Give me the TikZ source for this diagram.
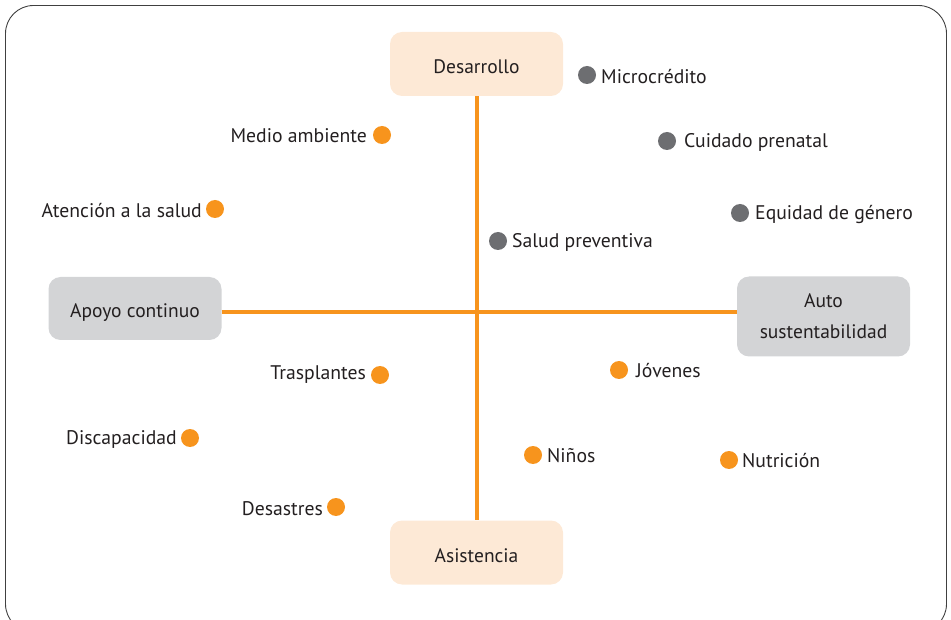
\documentclass[tikz,border=0pt]{standalone}
\usepackage{fontspec}
\setmainfont{PT Sans}
\definecolor{orng}{HTML}{F7941D}
\definecolor{peach}{HTML}{FDE9D6}
\definecolor{lgray}{HTML}{D3D4D6}
\definecolor{dgray}{HTML}{6D6E71}
\definecolor{txt}{HTML}{231F20}
\newcommand{\lowtxt}[1]{\raisebox{-9.5pt}[0pt][0pt]{#1}}
\begin{document}
\begin{tikzpicture}[x=1pt,y=-1pt,
  box/.style={rounded corners=12pt, minimum width=173pt, inner sep=0pt, align=center, font=\fontsize{19.5}{31}\selectfont, text=txt},
  obox/.style={box, fill=peach, minimum height=64pt},
  gbox/.style={box, fill=lgray, minimum height=63pt},
  odot/.style={circle, fill=orng, minimum size=18pt, inner sep=0pt},
  gdot/.style={circle, fill=dgray, minimum size=18pt, inner sep=0pt},
  lab/.style={font=\fontsize{19.7}{22}\selectfont, text=txt, inner sep=0pt},
  axis/.style={draw=orng, line width=4.5pt}]
\useasboundingbox (0,0) rectangle (951,620);
\begin{scope}
\clip (0,0) rectangle (951,620);
\draw[rounded corners=28pt, draw=black!75, line width=0.9pt] (5.5,5.5) rectangle (946.5,632);
\end{scope}

\node[obox] (des) at (476.5,64) {\lowtxt{Desarrollo}};
\node[obox] (asi) at (476.5,552.5) {\lowtxt{Asistencia}};
\node[gbox] (apo) at (135,308.5) {\lowtxt{Apoyo continuo}};
\node[gbox, minimum height=80pt] (aut) at (823.5,316.5) {Auto\\sustentabilidad};
\coordinate (cross) at (477,312);

\draw[axis] (des.south -| cross) -- (asi.north -| cross);
\draw[axis] (apo.east |- cross) -- (aut.west |- cross);

% gray dots (label right)
\node[gdot] (d1) at (587,75) {};
\node[lab, anchor=west] (l1) at (601,77) {Microcrédito};
\node[gdot] (d2) at (667,141) {};
\node[lab, anchor=west] (l2) at (684,142) {Cuidado prenatal};
\node[gdot] (d3) at (740,213) {};
\node[lab, anchor=west] (l3) at (755,214) {Equidad de género};
\node[gdot] (d4) at (498,241) {};
\node[lab, anchor=west] (l4) at (512,242) {Salud preventiva};

% orange dots, label left
\node[odot] (d5) at (382,135) {};
\node[lab, anchor=east] (l5) at (367,136) {Medio ambiente};
\node[odot] (d6) at (215,209) {};
\node[lab, anchor=east] (l6) at (202,211) {Atención a la salud};
\node[odot] (d7) at (380,375) {};
\node[lab, anchor=east] (l7) at (366,375) {Trasplantes};
\node[odot] (d8) at (190,438) {};
\node[lab, anchor=east] (l8) at (177,439) {Discapacidad};
\node[odot] (d9) at (336,507) {};
\node[lab, anchor=east] (l9) at (323,509) {Desastres};

% orange dots, label right
\node[odot] (d10) at (619,370) {};
\node[lab, anchor=west] (l10) at (636,371) {Jóvenes};
\node[odot] (d11) at (533,455) {};
\node[lab, anchor=west] (l11) at (547,456) {Niños};
\node[odot] (d12) at (729,460) {};
\node[lab, anchor=west] (l12) at (742,461) {Nutrición};
\end{tikzpicture}
\end{document}
